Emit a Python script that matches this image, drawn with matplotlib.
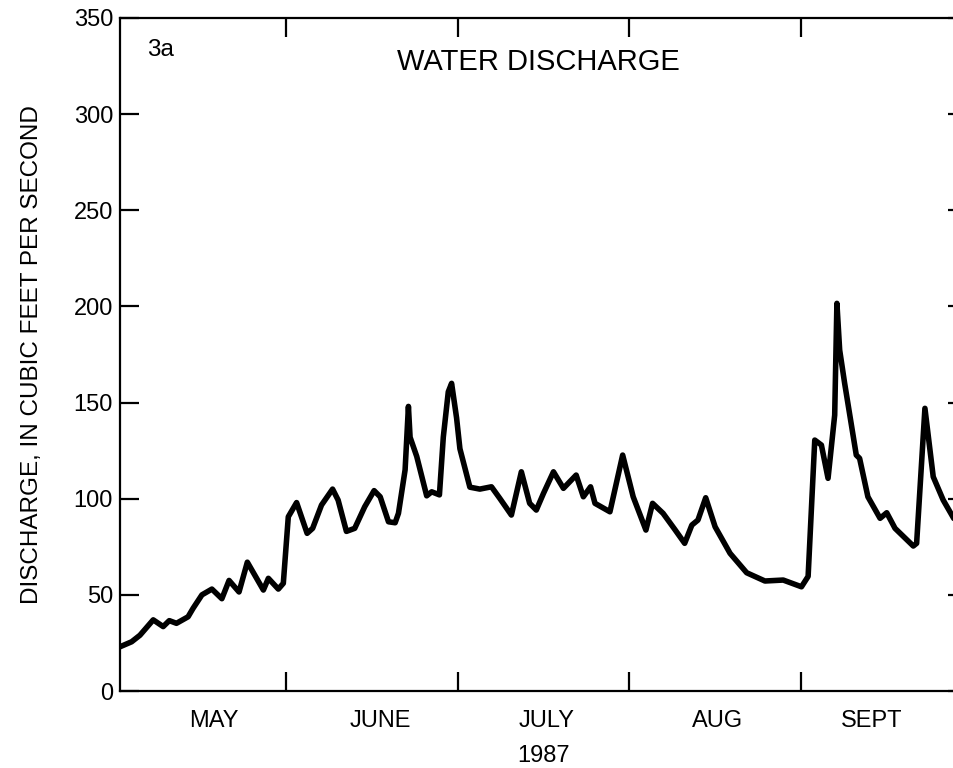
import matplotlib
matplotlib.use("Agg")
import matplotlib.pyplot as plt

plt.rcParams['font.family'] = ['Liberation Sans', 'DejaVu Sans']

# Days since May 1, 1987 (vertex positions) and discharge (cubic feet per second)
days = [0, 2.1, 3.6, 6.0, 7.8, 8.9, 10.2, 12.3, 13.2, 14.8, 16.6, 18.4, 19.7, 21.5,
        23.0, 25.9, 26.8, 28.6, 29.5, 30.4, 31.9, 33.8, 34.8, 36.4, 38.4, 39.4,
        40.9, 42.4, 44.2, 45.9, 47.0, 48.5, 49.7, 50.3, 51.5, 52.1, 52.4, 53.6,
        55.4, 56.3, 57.7, 58.4, 59.3, 59.9, 60.8, 61.4, 63.2, 65.0, 67.1, 68.6,
        70.7, 72.5, 74.0, 75.2, 76.5, 78.3, 80.1, 82.4, 83.7, 85.0, 85.8, 88.5,
        90.8, 92.7, 95.0, 96.2, 98.1, 100.2, 102.0, 103.3, 104.4, 105.8, 107.5,
        110.2, 113.2, 116.5, 119.8, 123.1, 124.3, 125.5, 126.7, 127.9, 129.1,
        129.5, 130.0, 130.9, 133.0, 133.6, 135.1, 137.3, 138.5, 140.0, 143.3,
        143.9, 145.4, 146.9, 148.7, 150.6, 152.0]
discharge = [23, 25.6, 29, 37, 33.5, 36.6, 35.2, 38.6, 43, 50, 53, 48, 57.5, 51.5,
             67, 52.5, 58.6, 53, 56, 90.6, 98, 82, 84.6, 96.7, 105, 99.3,
             83, 84.6, 95.8, 104.2, 101, 88, 87.5, 92.4, 115, 148, 132, 122,
             101.5, 103.6, 102, 132, 155.6, 160, 142, 126, 106, 105, 106.2, 100.2,
             91.5, 114, 97.6, 94.1, 102.8, 114, 105.4, 112.3, 101, 106.2, 97.6, 93.2,
             122.7, 101, 83.7, 97.6, 92.4, 84.1, 76.8, 86.3, 88.9, 100.5, 85.4,
             71.6, 61.5, 57.2, 57.7, 54.2, 59.6, 130.5, 127.9, 110.6, 143.5,
             201.6, 177.3, 160, 122.7, 121, 101, 89.8, 92.7, 84.6, 75.4,
             76.8, 147, 111.4, 99.3, 89.8, 86]

month_starts = [30, 61, 92, 123]          # June 1, July 1, Aug 1, Sept 1
month_labels = ["MAY", "JUNE", "JULY", "AUG", "SEPT"]
month_label_pos = [17, 47, 77, 108, 135.8]
yticks = [0, 50, 100, 150, 200, 250, 300, 350]

fig = plt.figure(figsize=(9.54, 7.68), dpi=100)
ax = fig.add_axes([120/954, 77/768, 847/954, 673/768])

ax.plot(days, discharge, color='black', lw=4.0, solid_joinstyle='round',
        solid_capstyle='round')

ax.set_xlim(0, 153)
ax.set_ylim(0, 350)

for s in ax.spines.values():
    s.set_linewidth(1.6)

ax.set_yticks(yticks)
ax.set_yticklabels([str(v) for v in yticks])
ax.tick_params(axis='y', which='major', direction='in', length=14, width=1.6,
               right=True, labelsize=17, pad=5)

ax.set_xticks(month_starts)
ax.set_xticklabels([])
ax.tick_params(axis='x', which='major', direction='in', length=14, width=1.6,
               top=True)
ax.set_xticks(month_label_pos, minor=True)
ax.set_xticklabels(month_labels, minor=True)
ax.tick_params(axis='x', which='minor', length=0, labelsize=17, pad=14)

ax.set_xlabel("1987", fontsize=17, labelpad=9)
ax.set_ylabel("DISCHARGE, IN CUBIC FEET PER SECOND", fontsize=17.5, labelpad=22)

ax.text(0.494, 0.935, "WATER DISCHARGE", transform=ax.transAxes, ha='center',
        va='center', fontsize=21)
ax.text(0.032, 0.952, "3a", transform=ax.transAxes, ha='left', va='center',
        fontsize=17.5)

fig.savefig("out.png", dpi=100)
